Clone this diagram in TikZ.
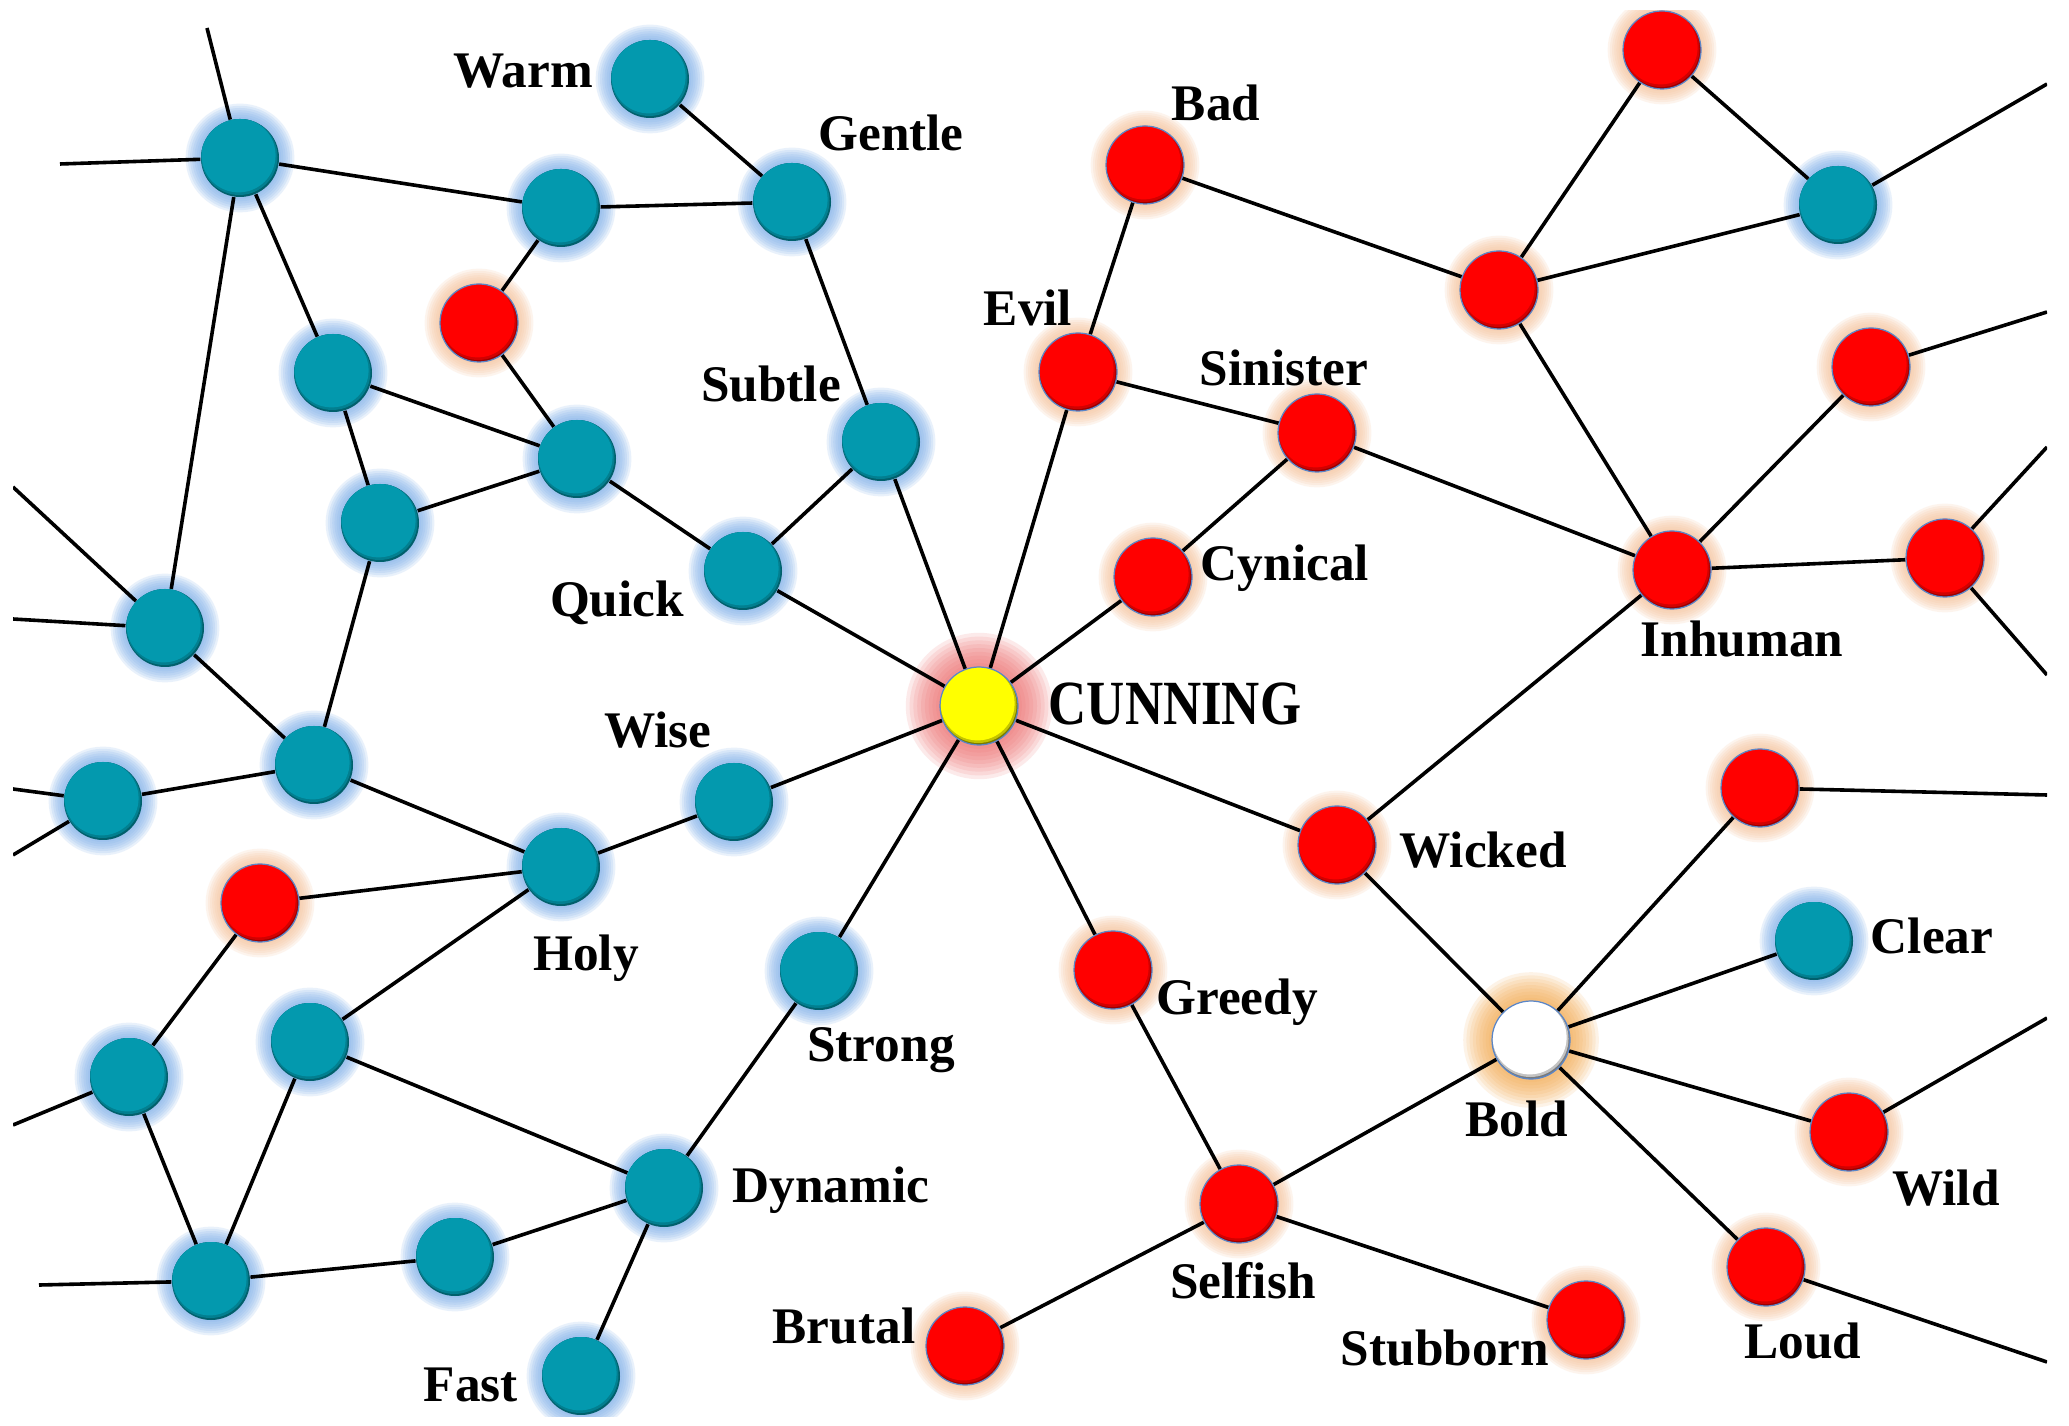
\documentclass[tikz,border=0pt]{standalone}
\usepackage{fontspec}
\setmainfont{Liberation Serif}
\definecolor{tealmain}{HTML}{0399AE}
\definecolor{tealdark}{HTML}{01606C}
\definecolor{tealglow}{HTML}{7FB0EA}
\definecolor{redmain}{HTML}{FF0000}
\definecolor{reddark}{HTML}{9A0000}
\definecolor{redglow}{HTML}{F7C29A}
\definecolor{yelmain}{HTML}{FFFF00}
\definecolor{yeldark}{HTML}{7A7A00}
\definecolor{yelglow}{HTML}{EE6E6E}
\definecolor{whmain}{HTML}{FFFFFF}
\definecolor{whdark}{HTML}{7A7A7A}
\definecolor{whglow}{HTML}{F5A84A}
\definecolor{rim}{HTML}{5A86C8}
\pgfdeclarelayer{glowl}
\pgfdeclarelayer{edgel}
\pgfsetlayers{glowl,edgel,main}
\tikzset{
  dotbase/.style={circle, inner sep=0pt, minimum size=7.8mm, line width=0.35pt},
  ball/.style 2 args={dotbase, fill=#2,
    path picture={
      \fill[#1!55!#2] ([shift={(-0.07mm,0.12mm)}]path picture bounding box.center) circle (3.82mm);
      \fill[#1] ([shift={(-0.14mm,0.26mm)}]path picture bounding box.center) circle (3.7mm);}},
  tdot/.style={ball={tealmain}{tealdark}},
  rdot/.style={ball={redmain}{reddark}, draw=rim},
  ydot/.style={ball={yelmain}{yeldark}, draw=rim},
  wdot/.style={ball={whmain}{whdark}, draw=rim},
  lbl/.style={font=\bfseries\fontsize{14.6pt}{17pt}\selectfont, inner sep=0pt, anchor=base},
  edge/.style={line width=0.36mm, black},
}
\begin{document}
\begin{tikzpicture}[x=0.1mm, y=-0.1mm]
\useasboundingbox (0,0) rectangle (2069,1426);
% ---- teal nodes
\node[tdot] (a) at (240,158) {};
\node[tdot] (b) at (561,208) {};
\node[tdot] (warm) at (650,79) {};
\node[tdot] (gentle) at (792,202) {};
\node[tdot] (c) at (333,373) {};
\node[tdot] (d) at (577,459) {};
\node[tdot] (e) at (380,523) {};
\node[tdot] (subtle) at (881,442) {};
\node[tdot] (quick) at (743,571) {};
\node[tdot] (f) at (165,628) {};
\node[tdot] (g) at (314,765) {};
\node[tdot] (h) at (103,801) {};
\node[tdot] (wise) at (734,802) {};
\node[tdot] (holy) at (561,867) {};
\node[tdot] (strong) at (819,971) {};
\node[tdot] (i) at (310,1042) {};
\node[tdot] (j) at (129,1077) {};
\node[tdot] (dynamic) at (664,1188) {};
\node[tdot] (k) at (211,1281) {};
\node[tdot] (l) at (455,1257) {};
\node[tdot] (fast) at (581,1376) {};
\node[tdot] (tr) at (1838,205) {};
\node[tdot] (clear) at (1814,941) {};
% ---- red nodes
\node[rdot] (r1) at (479,323) {};
\node[rdot] (r2) at (260,903) {};
\node[rdot] (bad) at (1145,165) {};
\node[rdot] (evil) at (1078,372) {};
\node[rdot] (sinister) at (1317,433) {};
\node[rdot] (cynical) at (1153,577) {};
\node[rdot] (rt1) at (1499,290) {};
\node[rdot] (rt2) at (1662,50) {};
\node[rdot] (rt3) at (1871,367) {};
\node[rdot] (inhuman) at (1672,570) {};
\node[rdot] (rt4) at (1945,558) {};
\node[rdot] (wicked) at (1337,845) {};
\node[rdot] (greedy) at (1113,970) {};
\node[rdot] (rt5) at (1760,788) {};
\node[rdot] (wild) at (1849,1132) {};
\node[rdot] (loud) at (1766,1267) {};
\node[rdot] (selfish) at (1239,1204) {};
\node[rdot] (stubborn) at (1586,1320) {};
\node[rdot] (brutal) at (965,1346) {};
% ---- special nodes
\node[ydot] (cunning) at (979,706) {};
\node[wdot] (bold) at (1531,1040) {};
% ---- free ends
\coordinate (atop) at (207,28);
\coordinate (aleft) at (60,164);
\coordinate (fup) at (13,487);
\coordinate (fleft) at (13,619);
\coordinate (hleft) at (13,789);
\coordinate (hdown) at (13,855);
\coordinate (jleft) at (13,1125);
\coordinate (kleft) at (39,1285);
\coordinate (trr) at (2047,84);
\coordinate (rt3r) at (2047,312);
\coordinate (rt4u) at (2047,447);
\coordinate (rt4d) at (2047,675);
\coordinate (rt5r) at (2047,795);
\coordinate (wildr) at (2047,1018);
\coordinate (loudr) at (2047,1362);
% ---- labels
\node[lbl] (lwarm) at (523,88) {Warm};
\node[lbl] (lgentle) at (891,151) {Gentle};
\node[lbl] (lsubtle) at (771,402) {Subtle};
\node[lbl] (lquick) at (617,617) {Quick};
\node[lbl] (lwise) at (658,748) {Wise};
\node[lbl] (lholy) at (586,970) {Holy};
\node[lbl] (lstrong) at (881,1061) {Strong};
\node[lbl] (ldynamic) at (831,1202) {Dynamic};
\node[lbl] (lfast) at (471,1401) {Fast};
\node[lbl] (lbrutal) at (844,1343) {Brutal};
\node[lbl, font=\bfseries\fontsize{17.9pt}{20pt}\selectfont] (lcunning) at (1175,725) {\scalebox{0.84}[1]{CUNNING}};
\node[lbl] (lbad) at (1216,121) {Bad};
\node[lbl] (levil) at (1028,326) {Evil};
\node[lbl] (lsinister) at (1284,386) {Sinister};
\node[lbl] (lcynical) at (1285,581) {Cynical};
\node[lbl] (linhuman) at (1742,657) {Inhuman};
\node[lbl] (lwicked) at (1483,867) {Wicked};
\node[lbl] (lgreedy) at (1237,1014) {Greedy};
\node[lbl] (lclear) at (1932,953) {Clear};
\node[lbl] (lbold) at (1517,1136) {Bold};
\node[lbl] (lwild) at (1946,1205) {Wild};
\node[lbl] (lloud) at (1803,1358) {Loud};
\node[lbl] (lselfish) at (1243,1298) {Selfish};
\node[lbl] (lstubborn) at (1445,1365) {Stubborn};
% ---- edges
\begin{pgfonlayer}{edgel}
\clip (13,11) rectangle (2047,1416);
\draw[edge] (a) -- (atop);
\draw[edge] (a) -- (aleft);
\draw[edge] (a) -- (b);
\draw[edge] (a) -- (c);
\draw[edge] (a) -- (f);
\draw[edge] (b) -- (gentle);
\draw[edge] (warm) -- (gentle);
\draw[edge] (b) -- (r1);
\draw[edge] (r1) -- (d);
\draw[edge] (c) -- (d);
\draw[edge] (c) -- (e);
\draw[edge] (e) -- (d);
\draw[edge] (e) -- (g);
\draw[edge] (d) -- (quick);
\draw[edge] (gentle) -- (subtle);
\draw[edge] (subtle) -- (quick);
\draw[edge] (subtle) -- (cunning);
\draw[edge] (quick) -- (cunning);
\draw[edge] (f) -- (fup);
\draw[edge] (f) -- (fleft);
\draw[edge] (f) -- (g);
\draw[edge] (g) -- (h);
\draw[edge] (h) -- (hleft);
\draw[edge] (h) -- (hdown);
\draw[edge] (g) -- (holy);
\draw[edge] (holy) -- (wise);
\draw[edge] (wise) -- (cunning);
\draw[edge] (r2) -- (holy);
\draw[edge] (i) -- (holy);
\draw[edge] (r2) -- (j);
\draw[edge] (j) -- (jleft);
\draw[edge] (j) -- (k);
\draw[edge] (i) -- (k);
\draw[edge] (i) -- (dynamic);
\draw[edge] (k) -- (l);
\draw[edge] (k) -- (kleft);
\draw[edge] (l) -- (dynamic);
\draw[edge] (dynamic) -- (fast);
\draw[edge] (dynamic) -- (strong);
\draw[edge] (strong) -- (cunning);
\draw[edge] (cunning) -- (evil);
\draw[edge] (cunning) -- (cynical);
\draw[edge] (cunning) -- (wicked);
\draw[edge] (cunning) -- (greedy);
\draw[edge] (evil) -- (bad);
\draw[edge] (evil) -- (sinister);
\draw[edge] (sinister) -- (cynical);
\draw[edge] (sinister) -- (inhuman);
\draw[edge] (bad) -- (rt1);
\draw[edge] (rt1) -- (rt2);
\draw[edge] (rt2) -- (tr);
\draw[edge] (rt1) -- (tr);
\draw[edge] (tr) -- (trr);
\draw[edge] (rt1) -- (inhuman);
\draw[edge] (inhuman) -- (rt3);
\draw[edge] (rt3) -- (rt3r);
\draw[edge] (inhuman) -- (rt4);
\draw[edge] (rt4) -- (rt4u);
\draw[edge] (rt4) -- (rt4d);
\draw[edge] (inhuman) -- (wicked);
\draw[edge] (wicked) -- (bold);
\draw[edge] (rt5) -- (bold);
\draw[edge] (rt5) -- (rt5r);
\draw[edge] (clear) -- (bold);
\draw[edge] (bold) -- (wild);
\draw[edge] (wild) -- (wildr);
\draw[edge] (bold) -- (loud);
\draw[edge] (loud) -- (loudr);
\draw[edge] (bold) -- (selfish);
\draw[edge] (greedy) -- (selfish);
\draw[edge] (selfish) -- (brutal);
\draw[edge] (selfish) -- (stubborn);
\end{pgfonlayer}
% ---- glows
\begin{pgfonlayer}{glowl}
\fill[white] (0,0) rectangle (2069,1426);
\clip (13,11) rectangle (2047,1416);
\foreach \n in {a,b,warm,gentle,c,d,e,subtle,quick,f,g,h,wise,holy,strong,i,j,dynamic,k,l,fast,tr,clear}{
  \foreach \s in {1,...,7}{\fill[tealglow, opacity=0.17] (\n.center) circle ({3.9mm+\s*0.22mm});}}
\foreach \n in {r1,r2,bad,evil,sinister,cynical,rt1,rt2,rt3,inhuman,rt4,wicked,greedy,rt5,wild,loud,selfish,stubborn,brutal}{
  \foreach \s in {1,...,7}{\fill[redglow, opacity=0.17] (\n.center) circle ({3.9mm+\s*0.22mm});}}
\foreach \s in {1,...,9}{\fill[yelglow, opacity=0.14] (cunning.center) circle ({3.9mm+\s*0.38mm});}
\foreach \s in {1,...,9}{\fill[whglow, opacity=0.13] (bold.center) circle ({3.9mm+\s*0.32mm});}
\end{pgfonlayer}
\end{tikzpicture}
\end{document}
